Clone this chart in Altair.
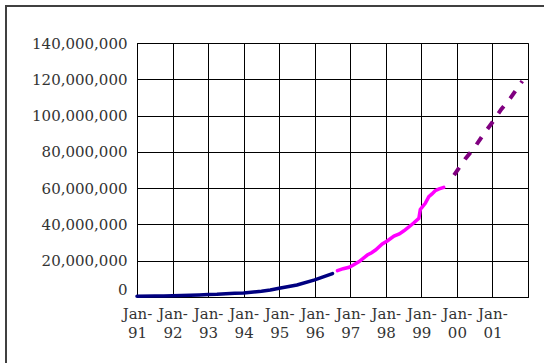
import altair as alt
import pandas as pd

# Survey (navy) series
navy_year = [1991.0, 1991.5, 1991.75, 1992.0, 1992.25, 1992.5, 1992.75, 1993.0,
             1993.25, 1993.5, 1993.75, 1994.0, 1994.5, 1994.75, 1995.0, 1995.5,
             1996.0, 1996.5]
navy_hosts = [376000, 535000, 617000, 727000, 890000, 992000, 1136000, 1313000,
              1486000, 1776000, 2056000, 2217000, 3212000, 3864000, 4852000, 6642000,
              9472000, 12881000]

# New survey (magenta) series
mag_year = [1996.64, 1996.8, 1996.97, 1997.1, 1997.25, 1997.38, 1997.48, 1997.6,
            1997.71, 1997.9, 1998.05, 1998.23, 1998.38, 1998.51, 1998.65, 1998.79,
            1998.93, 1998.97, 1999.04, 1999.11, 1999.21, 1999.3, 1999.39, 1999.5,
            1999.63]
mag_hosts = [14500000, 15600000, 16400000, 17800000, 19500000, 21600000, 23100000, 24400000,
             25900000, 29200000, 31000000, 33600000, 34800000, 36500000, 38600000, 40900000,
             43400000, 48300000, 50000000, 51600000, 55300000, 56800000, 58600000, 59600000,
             60400000]

# Projection (purple dashed) series
proj_year = [1999.92, 2000.25, 2000.5, 2000.75, 2001.0, 2001.25, 2001.5, 2001.84]
proj_hosts = [67200000, 76500000, 82500000, 89800000, 96300000, 103500000, 109500000, 119000000]

y_ticks = [0, 20000000, 40000000, 60000000, 80000000, 100000000, 120000000, 140000000]
x_ticks = [1991, 1992, 1993, 1994, 1995, 1996, 1997, 1998, 1999, 2000, 2001]

FONT = "DejaVu Serif"

navy_df = pd.DataFrame({"year": navy_year, "hosts": navy_hosts})
mag_df = pd.DataFrame({"year": mag_year, "hosts": mag_hosts})
proj_df = pd.DataFrame({"year": proj_year, "hosts": proj_hosts})

x_enc = alt.X(
    "year:Q",
    scale=alt.Scale(domain=[1991, 2002], nice=False, zero=False),
    axis=alt.Axis(
        values=x_ticks,
        title=None,
        labelExpr="['Jan-', substring(toString(datum.value), 2, 4)]",
        labelFont=FONT,
        labelFontSize=15,
        labelColor="#333333",
        labelLineHeight=19,
        labelPadding=9,
        labelOverlap=False,
        labelFlush=False,
        labelBound=False,
        ticks=False,
        domainColor="black",
        gridColor="black",
        gridWidth=1,
        gridOpacity=1,
    ),
)
y_enc = alt.Y(
    "hosts:Q",
    scale=alt.Scale(domain=[0, 140000000], nice=False),
    axis=alt.Axis(
        values=y_ticks,
        title=None,
        format=",d",
        labelFont=FONT,
        labelFontSize=15,
        labelColor="#333333",
        labelPadding=10,
        labelOverlap=False,
        labelFlush=False,
        labelBaseline={"condition": {"test": "datum.value == 0", "value": "bottom"}, "value": "middle"},
        ticks=False,
        domainColor="black",
        gridColor="black",
        gridWidth=1,
        gridOpacity=1,
    ),
)

navy = alt.Chart(navy_df).mark_line(color="#000080", strokeWidth=3.5, strokeCap="round").encode(x=x_enc, y=y_enc)
mag = alt.Chart(mag_df).mark_line(color="#FF00FF", strokeWidth=3.5, strokeCap="round").encode(x=x_enc, y=y_enc)
proj = alt.Chart(proj_df).mark_line(color="#800080", strokeWidth=4, strokeDash=[9, 10]).encode(x=x_enc, y=y_enc)

frame_data = alt.Data(values=[{"a": 1}])
frame_left = alt.Chart(frame_data).mark_rule(color="#404040", strokeWidth=2).encode(
    x=alt.value(-131), y=alt.value(-38), y2=alt.value(340))
frame_top = alt.Chart(frame_data).mark_rule(color="#404040", strokeWidth=2).encode(
    y=alt.value(-37), x=alt.value(-132), x2=alt.value(420))

chart = alt.layer(navy, mag, proj, frame_left, frame_top).properties(
    width=391,
    height=254,
    autosize=alt.AutoSizeParams(type="none"),
    padding={"left": 137, "top": 43, "right": 16, "bottom": 66},
    background="white",
).configure_view(stroke="black", strokeWidth=1)

chart.save("out.html", embed_options={"renderer": "svg", "actions": False})
